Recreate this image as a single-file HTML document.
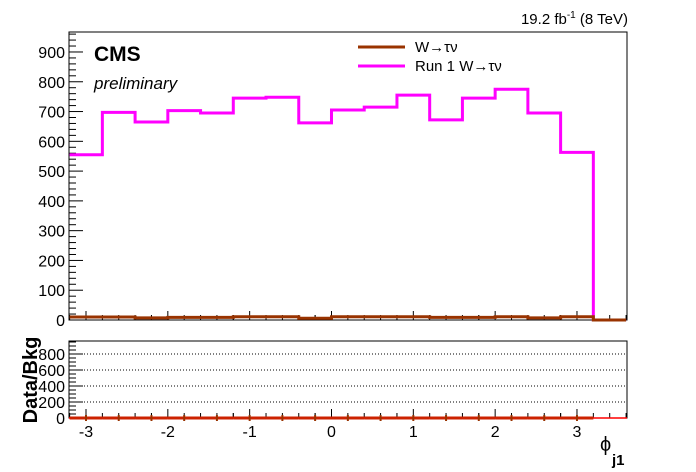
<!DOCTYPE html>
<html><head><meta charset="utf-8"><style>
body{margin:0;background:#fff}
svg{display:block;font-family:"Liberation Sans",sans-serif}
</style></head><body>
<svg id="c" width="696" height="472" viewBox="0 0 696 472">
<rect width="696" height="472" fill="#fff"/>
<text x="628" y="24" font-size="15" text-anchor="end">19.2 fb<tspan dy="-6" font-size="10">-1</tspan><tspan dy="6"> (8 TeV)</tspan></text>
<text x="94" y="61" font-size="21" font-weight="bold">CMS</text>
<text x="94" y="89" font-size="17" font-style="italic">preliminary</text>
<g>
<line x1="358" y1="47" x2="405" y2="47" stroke="#993300" stroke-width="3"/>
<text x="415" y="52" font-size="15">W→τν</text>
<line x1="358" y1="66" x2="405" y2="66" stroke="#ff00ff" stroke-width="3"/>
<text x="415" y="71" font-size="15">Run 1 W→τν</text>
</g>
<g id="main"></g>
<g id="ratio"></g>
<text x="600" y="451" font-size="20">ϕ</text>
<text x="612" y="465" font-size="15" font-weight="bold">j1</text>
<text transform="translate(37,380) rotate(-90)" font-size="20" font-weight="bold" text-anchor="middle">Data/Bkg</text>
</svg>
<script>
const binEdges=[-3.2,-2.8,-2.4,-2.0,-1.6,-1.2,-0.8,-0.4,0.0,0.4,0.8,1.2,1.6,2.0,2.4,2.8,3.2,3.6];
const run1Values=[555,697,665,703,695,745,748,662,705,715,755,672,745,775,695,563,0];
const wtaunuValues=[10,10,7,9,9,11,11,6,11,11,11,9,9,11,7,11,0];
const ratioValues=[0,0,0,0,0,0,0,0,0,0,0,0,0,0,0,0,0];
const yTicks=[0,100,200,300,400,500,600,700,800,900];
const ratioTicks=[0,200,400,600,800];
const xTicks=[-3,-2,-1,0,1,2,3];
const NS="http://www.w3.org/2000/svg";
const L=69,R=627,T=32,B=320,RT=341,RB=418;
const X=v=>86+(v+3)*81.83;
const Y=v=>B-v*0.2978;
const YR=v=>418-v*0.08;
function mk(p,tag,at){const e=document.createElementNS(NS,tag);for(const k in at)e.setAttribute(k,at[k]);p.appendChild(e);return e;}
const main=document.getElementById('main'),ratio=document.getElementById('ratio');
function step(vals,yf){let d='';for(let i=0;i<vals.length;i++){const x0=X(binEdges[i]),x1=X(binEdges[i+1]),y=yf(vals[i]);d+=(i?'L':'M')+x0+','+y+'L'+x1+','+y;}return d;}
let f=mk(main,'rect',{x:L,y:T,width:R-L,height:B-T,fill:'none',stroke:'#000'});


let f2=mk(ratio,'rect',{x:L,y:RT,width:R-L,height:RB-RT,fill:'none',stroke:'#000'});


yTicks.forEach(v=>{const y=Y(v);mk(main,'line',{x1:L,y1:y,x2:L+14,y2:y,stroke:'#000'});
const t=mk(main,'text',{x:L-4,y:y+6,'font-size':16,'text-anchor':'end'});t.textContent=v;


for(let k=1;k<5;k++){const yy=Y(v+k*20);if(yy>T)mk(main,'line',{x1:L,y1:yy,x2:L+7,y2:yy,stroke:'#000'});}});
ratioTicks.forEach(v=>{const y=YR(v);mk(ratio,'line',{x1:L,y1:y,x2:L+14,y2:y,stroke:'#000'});
if(v>0)mk(ratio,'line',{x1:L,y1:y,x2:R,y2:y,stroke:'#000','stroke-dasharray':'1,2'});
const t=mk(ratio,'text',{x:L-4,y:y+6,'font-size':16,'text-anchor':'end'});t.textContent=v;


for(let k=1;k<4;k++){const yy=YR(v+k*50);if(yy>RT)mk(ratio,'line',{x1:L,y1:yy,x2:L+7,y2:yy,stroke:'#000'});}});
xTicks.forEach(v=>{const x=X(v);[[main,B],[ratio,RB]].forEach(([g,b])=>{mk(g,'line',{x1:x,y1:b,x2:x,y2:b-9,stroke:'#000'});});
for(let k=1;k<5;k++){const xx=X(v+k*0.2);if(xx<R)[[main,B],[ratio,RB]].forEach(([g,b])=>mk(g,'line',{x1:xx,y1:b,x2:xx,y2:b-5,stroke:'#000'}));}
const xx=X(v-0.2);[[main,B],[ratio,RB]].forEach(([g,b])=>mk(g,'line',{x1:xx,y1:b,x2:xx,y2:b-5,stroke:'#000'}));
const t=mk(ratio,'text',{x:x,y:437,'font-size':16,'text-anchor':'middle'});t.textContent=v;

});
let p1=mk(main,'path',{d:step(run1Values,Y),fill:'none',stroke:'#ff00ff','stroke-width':3});


let p2=mk(main,'path',{d:step(wtaunuValues,Y),fill:'none',stroke:'#993300','stroke-width':3});


let p3=mk(ratio,'line',{x1:L,y1:YR(0),x2:R,y2:YR(0),stroke:'#ff0000','stroke-width':1.5});


for(let i=0;i<16;i++){const xm=X((binEdges[i]+binEdges[i+1])/2);
const pt=mk(ratio,'line',{x1:X(binEdges[i]),y1:YR(ratioValues[i]),x2:X(binEdges[i+1]),y2:YR(ratioValues[i]),stroke:'#cc2200','stroke-width':3});


mk(ratio,'line',{x1:xm,y1:YR(ratioValues[i])-3,x2:xm,y2:YR(ratioValues[i])+3,stroke:'#993300','stroke-width':2});}
</script>
</body></html>
